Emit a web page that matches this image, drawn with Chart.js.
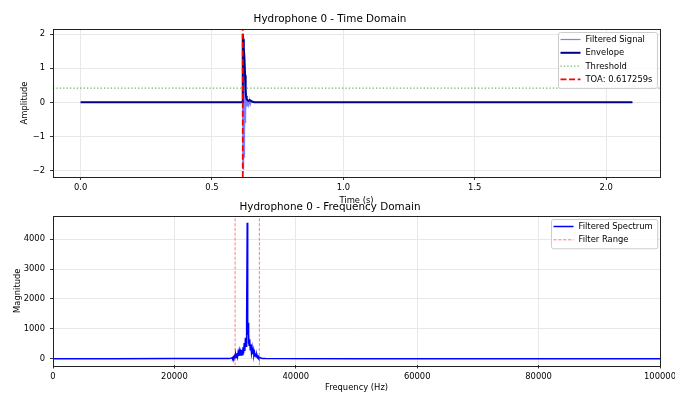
<!DOCTYPE html>
<html>
<head>
<meta charset="utf-8">
<script src="https://cdn.jsdelivr.net/npm/chart.js@4.4.1/dist/chart.umd.min.js"></script>
<style>
  html, body { margin: 0; padding: 0; background: #fff; }
  #wrap { position: relative; width: 675px; height: 393px; overflow: hidden; }
  #wrap canvas { position: absolute; left: 0; }
</style>
</head>
<body>
<div id="wrap">
  <canvas id="timeChart" width="675" height="206" style="top:0"></canvas>
  <canvas id="freqChart" width="675" height="198" style="top:195px"></canvas>
</div>
<script>
// tick labels
var timeTicks = [0, 0.5, 1.0, 1.5, 2.0];
var ampTicks = [-2, -1, 0, 1, 2];
var freqTicks = [0, 20000, 40000, 60000, 80000, 100000];
var magTicks = [0, 1000, 2000, 3000, 4000];

// time domain (s / amplitude)
var sigTime = [0, 0.3, 0.6, 0.6165, 0.6168, 0.6172, 0.6176, 0.618, 0.6185, 0.619, 0.6195, 0.62, 0.6205, 0.621, 0.6215, 0.622, 0.6225, 0.623, 0.6235, 0.624, 0.6245, 0.625, 0.626, 0.627, 0.628, 0.629, 0.631, 0.634, 0.637, 0.64, 0.643, 0.646, 0.65, 0.66, 1.0, 1.5, 2.1];
var sigAmp  = [0, 0, 0, 0, 0.5, -1.3, 1.98, -1.95, 1.9, -1.97, 1.8, -1.85, 1.7, -1.75, 1.6, -1.6, 1.45, -1.4, 1.3, -1.25, 1.1, -1.0, 0.8, -0.6, 0.4, -0.25, 0.15, -0.1, 0.08, -0.07, 0.08, -0.06, 0.04, 0, 0, 0, 0];
var envTime = [0, 0.3, 0.6, 0.615, 0.6168, 0.6175, 0.619, 0.621, 0.6235, 0.626, 0.628, 0.6295, 0.632, 0.636, 0.64, 0.643, 0.646, 0.65, 0.655, 0.66, 0.7, 1.0, 1.5, 2.1];
var envAmp  = [0.005, 0.006, 0.008, 0.01, 0.6, 2.0, 1.85, 1.6, 1.3, 0.8, 0.4, 0.2, 0.1, 0.06, 0.05, 0.07, 0.06, 0.04, 0.02, 0.01, 0.008, 0.006, 0.005, 0.005];
var threshold = 0.42;
var toa = 0.617259;

// frequency domain (Hz / magnitude)
var specFreq = [0, 10000, 20000, 29000, 29300, 29500, 29600, 29700, 29800, 29900, 30000, 30100, 30200, 30300, 30400, 30500, 30600, 30700, 30800, 30900, 31000, 31100, 31200, 31300, 31400, 31500, 31600, 31700, 31800, 31850, 31900, 31950, 32000, 32050, 32100, 32150, 32200, 32250, 32300, 32400, 32500, 32600, 32700, 32800, 32900, 33000, 33100, 33200, 33300, 33400, 33500, 33600, 33700, 33800, 33900, 34000, 34200, 34500, 35000, 50000, 75000, 100000];
var specMag  = [2, 2, 3, 5, 15, 30, 10, 60, 20, 90, 30, 140, 50, 180, 70, 210, 90, 250, 100, 230, 120, 300, 140, 380, 180, 520, 260, 700, 420, 950, 600, 1300, 4550, 1350, 800, 1200, 500, 850, 450, 650, 300, 480, 200, 350, 150, 280, 120, 220, 90, 170, 60, 120, 40, 80, 25, 50, 20, 8, 4, 2, 2, 2];
var filterRange = [30000, 34000];

var font = '"DejaVu Sans", sans-serif';
Chart.defaults.font.family = font;
Chart.defaults.font.size = 8.4;
Chart.defaults.color = '#000';

function pts(xs, ys) {
    return xs.map(function (x, i) { return { x: x, y: ys[i] }; });
}

function minus(v) {
    return v < 0 ? '\u2212' + Math.abs(v) : String(v);
}

// frame around the plot area, like the axes spines
var frame = {
    id: 'frame',
    afterDatasetsDraw: function (chart) {
        var a = chart.chartArea, ctx = chart.ctx;
        ctx.save();
        ctx.strokeStyle = '#222';
        ctx.lineWidth = 1;
        ctx.strokeRect(Math.round(a.left) + 0.5, Math.round(a.top) + 0.5,
            Math.round(a.right - a.left), Math.round(a.bottom - a.top));
        ctx.restore();
    }
};

// legend box inside the plot, top right
var boxLegend = {
    id: 'boxLegend',
    afterDraw: function (chart, args, opts) {
        var ctx = chart.ctx, area = chart.chartArea, items = opts.items || [];
        ctx.save();
        ctx.font = '8.4px ' + font;
        var textW = 0;
        items.forEach(function (it) { textW = Math.max(textW, ctx.measureText(it.label).width); });
        var w = 2 + 20 + 5 + textW + 5;
        var h = 7 + 13.3 * (items.length - 1) + 9;
        var x0 = Math.round(area.right - 3 - w) + 0.5, y0 = Math.round(area.top + 3) + 0.5;
        ctx.fillStyle = 'rgba(255,255,255,0.8)';
        ctx.strokeStyle = '#cccccc';
        ctx.lineWidth = 1;
        ctx.beginPath();
        if (ctx.roundRect) ctx.roundRect(x0, y0, w, h, 2); else ctx.rect(x0, y0, w, h);
        ctx.fill();
        ctx.stroke();
        items.forEach(function (it, i) {
            var y = y0 + 7 + 13.3 * i;
            ctx.strokeStyle = it.color;
            ctx.lineWidth = it.width;
            ctx.setLineDash(it.dash || []);
            ctx.beginPath();
            ctx.moveTo(x0 + 2, y);
            ctx.lineTo(x0 + 22, y);
            ctx.stroke();
            ctx.setLineDash([]);
            ctx.fillStyle = '#000';
            ctx.textBaseline = 'middle';
            ctx.fillText(it.label, x0 + 27, y + 0.5);
        });
        ctx.restore();
    }
};

function axis(min, max, ticks, fmt, title, titlePad, size) {
    return {
        type: 'linear',
        min: min,
        max: max,
        afterBuildTicks: function (s) { s.ticks = ticks.map(function (v) { return { value: v }; }); },
        afterFit: function (s) {
            if (s.isHorizontal()) { s.height = size; s.paddingLeft = 0; s.paddingRight = 0; }
            else { s.width = size; s.paddingTop = 0; s.paddingBottom = 0; }
        },
        ticks: { callback: fmt, autoSkip: false, maxRotation: 0, padding: 3, color: '#000' },
        grid: { color: '#e8e8e8', tickColor: '#333', tickLength: 3 },
        border: { display: false },
        title: { display: true, text: title, color: '#000', padding: { top: titlePad, bottom: 0 } }
    };
}

var timeY = [-2.18, 2.15];
var timeX = axis(-0.105, 2.205, timeTicks, function (v) { return v.toFixed(1); }, 'Time (s)', 0, 29);
var ampY = axis(timeY[0], timeY[1], ampTicks, minus, 'Amplitude', 20, 53);
ampY.ticks.padding = 5;

new Chart(document.getElementById('timeChart'), {
    type: 'line',
    data: {
        datasets: [{
            label: 'Filtered Signal',
            data: pts(sigTime, sigAmp),
            borderColor: 'rgba(0,0,255,0.5)',
            borderWidth: 1.2,
            order: 4
        }, {
            label: 'Envelope',
            data: pts(envTime, envAmp),
            borderColor: '#00008b',
            borderWidth: 2,
            order: 3
        }, {
            label: 'Threshold',
            data: [{ x: -0.105, y: threshold }, { x: 2.205, y: threshold }],
            borderColor: 'rgba(0,128,0,0.6)',
            borderWidth: 1.2,
            borderDash: [1.3, 2.1],
            order: 2
        }, {
            label: 'TOA: ' + toa + 's',
            data: [{ x: toa, y: timeY[0] }, { x: toa, y: timeY[1] }],
            borderColor: '#ff0000',
            borderWidth: 1.8,
            borderDash: [6, 2.6],
            order: 1
        }]
    },
    options: {
        responsive: false,
        animation: false,
        elements: { point: { radius: 0 }, line: { tension: 0, fill: false } },
        layout: { padding: { left: 0, right: 15, top: 0, bottom: 0 } },
        scales: { x: timeX, y: ampY },
        plugins: {
            legend: { display: false },
            tooltip: { enabled: false },
            title: {
                display: true,
                text: 'Hydrophone 0 - Time Domain',
                color: '#000',
                font: { size: 10.4, weight: 'normal' },
                padding: { top: 12.8, bottom: 3.7 }
            },
            boxLegend: {
                items: [
                    { label: 'Filtered Signal', color: 'rgba(0,0,255,0.5)', width: 1.2 },
                    { label: 'Envelope', color: '#00008b', width: 2 },
                    { label: 'Threshold', color: 'rgba(0,128,0,0.6)', width: 1.2, dash: [1.3, 2.1] },
                    { label: 'TOA: ' + toa + 's', color: '#ff0000', width: 1.8, dash: [6, 2.6] }
                ]
            }
        }
    },
    plugins: [frame, boxLegend]
});

var magRange = [-228, 4780];
var freqX = axis(0, 100000, freqTicks, function (v) { return String(v); }, 'Frequency (Hz)', 1.5, 27.5);
var magY = axis(magRange[0], magRange[1], magTicks, function (v) { return String(v); }, 'Magnitude', 13, 53);
magY.ticks.padding = 5;

function rangeLine(f, show) {
    return {
        label: show ? 'Filter Range' : '',
        data: [{ x: f, y: magRange[0] }, { x: f, y: magRange[1] }],
        borderColor: 'rgba(255,0,0,0.5)',
        borderWidth: 1,
        borderDash: [3.2, 1.6],
        order: 1
    };
}

new Chart(document.getElementById('freqChart'), {
    type: 'line',
    data: {
        datasets: [{
            label: 'Filtered Spectrum',
            data: pts(specFreq, specMag),
            borderColor: '#0000ff',
            borderWidth: 1.5,
            order: 2
        }, rangeLine(filterRange[0], true), rangeLine(filterRange[1], false)]
    },
    options: {
        responsive: false,
        animation: false,
        elements: { point: { radius: 0 }, line: { tension: 0, fill: false } },
        layout: { padding: { left: 0, right: 15, top: 0, bottom: 0 } },
        scales: { x: freqX, y: magY },
        plugins: {
            legend: { display: false },
            tooltip: { enabled: false },
            title: {
                display: true,
                text: 'Hydrophone 0 - Frequency Domain',
                color: '#000',
                font: { size: 10.4, weight: 'normal' },
                padding: { top: 6.45, bottom: 2.05 }
            },
            boxLegend: {
                items: [
                    { label: 'Filtered Spectrum', color: '#0000ff', width: 1.5 },
                    { label: 'Filter Range', color: 'rgba(255,0,0,0.5)', width: 1, dash: [3.2, 1.6] }
                ]
            }
        }
    },
    plugins: [frame, boxLegend]
});
</script>
</body>
</html>
